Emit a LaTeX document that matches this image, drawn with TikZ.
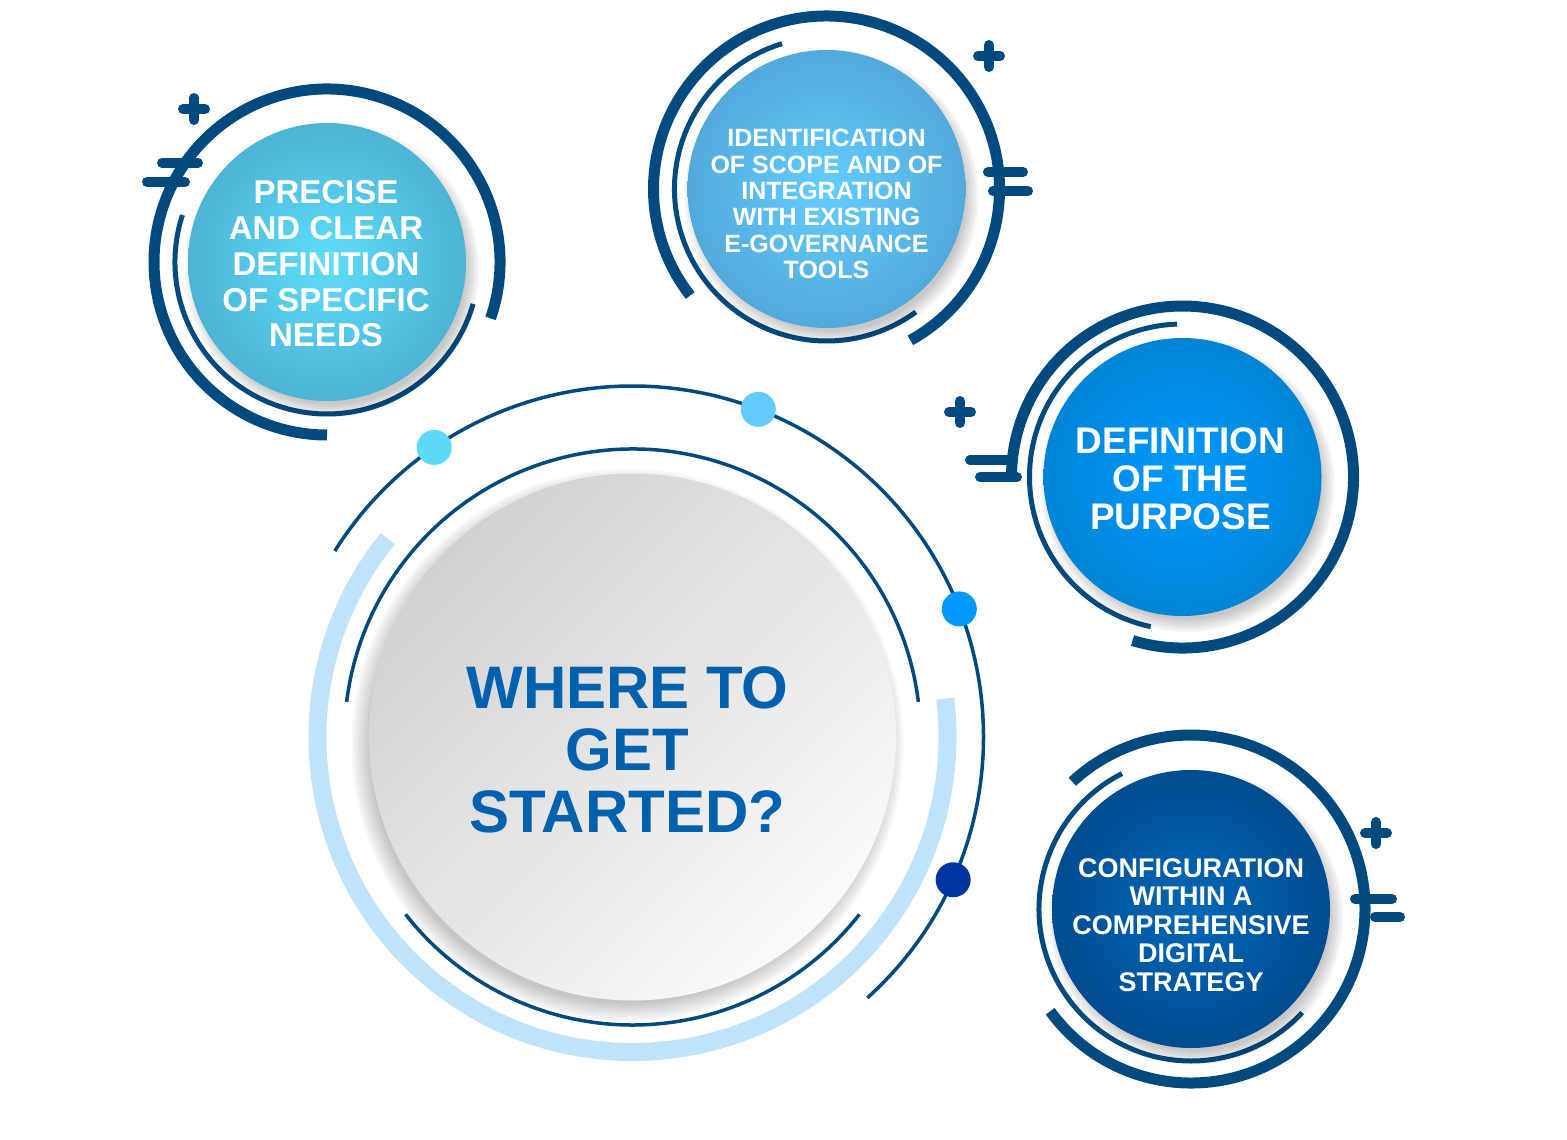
\documentclass[tikz,border=0pt]{standalone}
\usepackage{fontspec}
\setmainfont{Liberation Sans}
\usetikzlibrary{calc}

\definecolor{navy}{HTML}{004A7F}
\definecolor{paleblue}{HTML}{BEE3FA}
\definecolor{headblue}{HTML}{0062AF}
\definecolor{dotcyan}{HTML}{5CDAF9}
\definecolor{dotsky}{HTML}{63CAFB}
\definecolor{dotblue}{HTML}{0099FE}
\definecolor{dotnavy}{HTML}{0034A1}

\tikzset{
  bigring/.style={navy, line width=11pt},
  thinring/.style={navy, line width=5pt},
  fine/.style={navy, line width=3.5pt},
  bar/.style={navy, line width=10pt, line cap=round},
  bubble/.style={circle, minimum size=278pt, inner sep=0pt},
  caption/.style={text=white, align=center, inner sep=0pt}
}

\begin{document}
\begin{tikzpicture}[x=1pt, y=1pt]
    \useasboundingbox (0,0) rectangle (1567,-1140);
    \coordinate (O) at (632.5,-737);
    \coordinate (P) at (327,-262);
    \coordinate (Q) at (826.5,-189);
    \coordinate (R) at (1182.5,-477);
    \coordinate (S) at (1191,-909);
    % rings round the centre
    \draw[paleblue, line width=18pt] (O) ++(141:315) arc[start angle=141, end angle=367, radius=315];
    \draw[fine] (O) ++(7:288) arc[start angle=7, end angle=173, radius=288];
    \draw[fine] (O) ++(218:288) arc[start angle=218, end angle=322, radius=288];
    \draw[fine] (O) ++(-48:351) arc[start angle=-48, end angle=148, radius=351];
    \foreach \a/\c in {124.4/dotcyan, 69/dotsky, 21.4/dotblue, -24/dotnavy} {\fill[\c] (O) ++(\a:351) circle (17.5);}
    % rings round the four bubbles
    \draw[bigring] (P) ++(-19:173) arc[start angle=-19, end angle=270, radius=173];
    \draw[thinring] (P) ++(162:152) arc[start angle=162, end angle=344, radius=152];
    \draw[bigring] (Q) ++(-61:173) arc[start angle=-61, end angle=218, radius=173];
    \draw[thinring] (Q) ++(107:152) arc[start angle=107, end angle=306, radius=152];
    \draw[bigring] (R) ++(-107:171) arc[start angle=-107, end angle=179, radius=171];
    \draw[thinring] (R) ++(92:153) arc[start angle=92, end angle=258, radius=153];
    \draw[bigring] (S) ++(-144:174) arc[start angle=-144, end angle=133, radius=174];
    \draw[thinring] (S) ++(117:152) arc[start angle=117, end angle=317, radius=152];
    % plus signs and bars
    \foreach \x/\y in {194/109, 989/56, 960/412, 1376/833} {\draw[bar] (\x-11,-\y) -- (\x+11,-\y) (\x,-\y+11) -- (\x,-\y-11);}
    \foreach \x/\u/\y in {162/198/163, 147/185/182, 988/1023/172, 993/1028/191, 970/1007/460, 980/1017/477, 1355/1392/899, 1375/1400/917} {\draw[bar] (\x,-\y) -- (\u,-\y);}
    % shadows
    \foreach \k in {1,...,8} {\fill[black, opacity=0.03] ($(O)+(-5,-8)$) circle (256+\k*2.5);}
    \foreach \p in {P,Q,R,S} {\foreach \k in {1,...,6} {\fill[black, opacity=0.04] ($(\p)+(5,-8)$) circle (132+\k*2.5);}}
    % bubbles
    \node[circle, minimum size=527pt, inner sep=0pt, shading=axis, top color=black!18, bottom color=black!2, shading angle=45] (c0) at (O) {};
    \node[bubble, inner color={rgb,255:red,94;green,221;blue,250}, outer color={rgb,255:red,77;green,180;blue,213}] (c1) at (P) {};
    \node[bubble, inner color={rgb,255:red,99;green,205;blue,253}, outer color={rgb,255:red,82;green,170;blue,219}] (c2) at (Q) {};
    \node[bubble, inner color={rgb,255:red,0;green,154;blue,255}, outer color={rgb,255:red,0;green,132;blue,214}] (c3) at (R) {};
    \node[bubble, inner color={rgb,255:red,0;green,104;blue,183}, outer color={rgb,255:red,0;green,76;blue,145}] (c4) at (S) {};
    % texts
    \node[caption, text=headblue, font=\fontsize{60}{62}\selectfont\bfseries] (t0) at ($(c0)+(-5,-13)$) {WHERE TO\\GET\\STARTED?};
    \node[caption, font=\fontsize{33}{35.7}\selectfont\bfseries] (t1) at ($(c1)+(-1,-2)$) {PRECISE\\AND CLEAR\\DEFINITION\\OF SPECIFIC\\NEEDS};
    \node[caption, font=\fontsize{25}{26.4}\selectfont\bfseries] (t2) at ($(c2)+(0,-15)$) {IDENTIFICATION\\OF SCOPE AND OF\\INTEGRATION\\WITH EXISTING\\E-GOVERNANCE\\TOOLS};
    \node[caption, font=\fontsize{37}{38}\selectfont\bfseries] (t3) at ($(c3)+(-2,-2)$) {DEFINITION\\OF THE\\PURPOSE};
    \node[caption, font=\fontsize{27}{28.5}\selectfont\bfseries] (t4) at ($(c4)+(0,-16)$) {CONFIGURATION\\WITHIN A\\COMPREHENSIVE\\DIGITAL\\STRATEGY};
\end{tikzpicture}
\end{document}
